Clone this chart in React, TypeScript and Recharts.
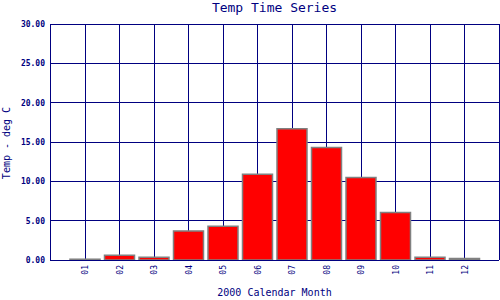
import React from "react";
import { BarChart, Bar, XAxis, YAxis, CartesianGrid, Label } from "recharts";

const months = ["01", "02", "03", "04", "05", "06", "07", "08", "09", "10", "11", "12"];
const temps = [0.1, 0.6, 0.35, 3.7, 4.3, 10.9, 16.7, 14.3, 10.5, 6.05, 0.35, 0.2];
const yTicks = [0, 5, 10, 15, 20, 25, 30];

const data = months.map((m, i) => ({ month: m, temp: temps[i] }));

const NAVY = "#000080";
const MONO = "'DejaVu Sans Mono', monospace";

const XTick = (props: any) => {
  const { x, y, payload } = props;
  return (
    <text
      x={x}
      y={y}
      transform={`rotate(-90, ${x}, ${y})`}
      textAnchor="end"
      dy="0.35em"
      fontSize={8}
      fontFamily={MONO}
      fill={NAVY}
    >
      {payload.value}
    </text>
  );
};

export default function App() {
  return (
    <div style={{ position: "fixed", left: 0, top: 0, width: 500, height: 300, background: "#fff" }}>
      <div
        style={{
          position: "absolute",
          left: 0,
          top: 0,
          width: 549,
          textAlign: "center",
          fontFamily: MONO,
          fontSize: 13,
          color: NAVY,
          lineHeight: "16px",
        }}
      >
        Temp Time Series
      </div>
      <div
        style={{
          position: "absolute",
          left: 7,
          top: 143,
          transform: "translate(-50%, -50%) rotate(-90deg)",
          fontFamily: MONO,
          fontSize: 10,
          color: NAVY,
          whiteSpace: "nowrap",
          lineHeight: "12px",
        }}
      >
        Temp - deg C
      </div>
      <BarChart
        width={500}
        height={300}
        data={data}
        margin={{ top: 24, right: 1, left: 0, bottom: 0 }}
        style={{ position: "absolute", left: 0, top: 0 }}
      >
        <CartesianGrid stroke={NAVY} strokeWidth={1} shapeRendering="crispEdges" />
        <XAxis
          dataKey="month"
          height={40}
          padding={{ left: 18, right: 17 }}
          axisLine={{ stroke: NAVY, shapeRendering: "crispEdges" }}
          tickLine={false}
          tickSize={5}
          tickMargin={0}
          tick={<XTick />}
          interval={0}
        >
          <Label
            value="2000 Calendar Month"
            position="insideBottom"
            offset={4}
            fill={NAVY}
            fontSize={10}
            fontFamily={MONO}
          />
        </XAxis>
        <YAxis
          width={50}
          domain={[0, 30]}
          ticks={yTicks}
          tickFormatter={(v: number) => v.toFixed(2)}
          axisLine={{ stroke: NAVY, shapeRendering: "crispEdges" }}
          tickLine={false}
          tickSize={5}
          tickMargin={0}
          tick={{ fill: NAVY, fontSize: 8, fontFamily: MONO, fontWeight: "bold" }}
          interval={0}
        />
        <YAxis
          yAxisId="right"
          orientation="right"
          width={0}
          tick={false}
          tickLine={false}
          axisLine={{ stroke: NAVY, shapeRendering: "crispEdges" }}
          domain={[0, 30]}
        />
        <Bar
          dataKey="temp"
          fill="#ff0000"
          stroke="#808080"
          strokeWidth={1.5}
          barSize={30}
          isAnimationActive={false}
        />
      </BarChart>
    </div>
  );
}
